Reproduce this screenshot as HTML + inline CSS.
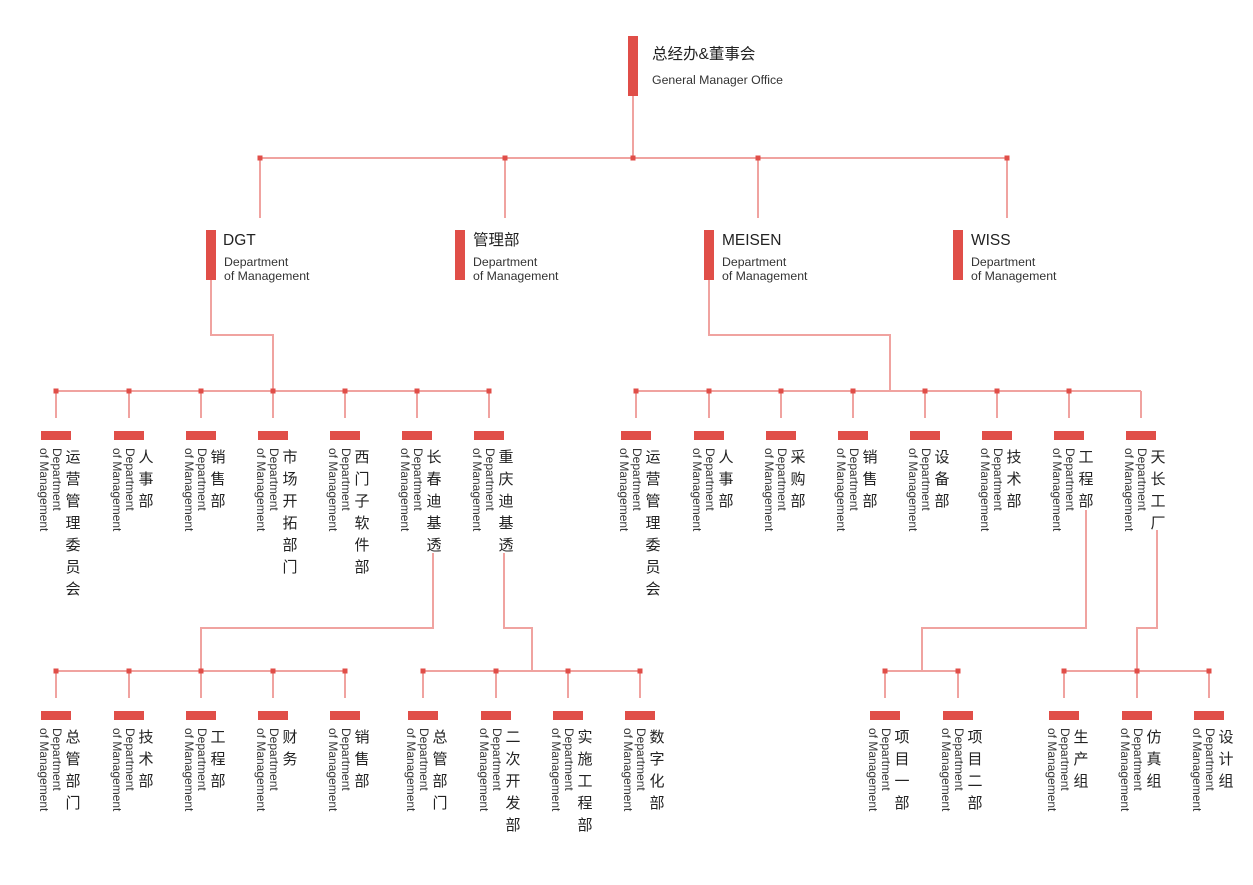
<!DOCTYPE html>
<html><head><meta charset="utf-8"><style>
html,body{margin:0;padding:0;background:#fff}
svg{display:block}
.l{stroke:#f0a3a0;stroke-width:2;fill:none}
.d{fill:#e04e48}
.b{fill:#e04e48}
.e{font-family:"Liberation Sans",sans-serif;font-size:12px;fill:#333}
.c{font-family:"Liberation Sans","Noto Sans CJK SC",sans-serif;font-size:15px;fill:#222;text-anchor:middle}
.t{font-family:"Liberation Sans","Noto Sans CJK SC",sans-serif;font-size:15.5px;fill:#222}
.s{font-family:"Liberation Sans",sans-serif;font-size:12.3px;fill:#333}
</style></head><body>
<svg width="1253" height="885" viewBox="0 0 1253 885" xmlns="http://www.w3.org/2000/svg">
<rect class="b" x="628" y="36" width="10" height="60"/>
<text class="t" x="652" y="59">总经办&amp;董事会</text>
<text class="s" x="652" y="84">General Manager Office</text>
<path class="l" d="M633 96V158M260 158H1007M260 158V218M505 158V218M758 158V218M1007 158V218"/>
<rect class="d" x="257.5" y="155.5" width="5" height="5"/><rect class="d" x="502.5" y="155.5" width="5" height="5"/><rect class="d" x="630.5" y="155.5" width="5" height="5"/><rect class="d" x="755.5" y="155.5" width="5" height="5"/><rect class="d" x="1004.5" y="155.5" width="5" height="5"/>
<rect class="b" x="206" y="230" width="10" height="50"/><text class="t" x="223" y="245">DGT</text><text class="s" x="224" y="266">Department</text><text class="s" x="224" y="280">of Management</text>
<rect class="b" x="455" y="230" width="10" height="50"/><text class="t" x="473" y="245">管理部</text><text class="s" x="473" y="266">Department</text><text class="s" x="473" y="280">of Management</text>
<rect class="b" x="704" y="230" width="10" height="50"/><text class="t" x="722" y="245">MEISEN</text><text class="s" x="722" y="266">Department</text><text class="s" x="722" y="280">of Management</text>
<rect class="b" x="953" y="230" width="10" height="50"/><text class="t" x="971" y="245">WISS</text><text class="s" x="971" y="266">Department</text><text class="s" x="971" y="280">of Management</text>
<path class="l" d="M211 280V335H273V391M56 391H489M56 391V418M129 391V418M201 391V418M273 391V418M345 391V418M417 391V418M489 391V418"/>
<path class="l" d="M709 280V335H890V391M636 391H1141M636 391V418M709 391V418M781 391V418M853 391V418M925 391V418M997 391V418M1069 391V418M1141 391V418"/>
<g class="d">
<rect x="53.5" y="388.5" width="5" height="5"/><rect x="126.5" y="388.5" width="5" height="5"/><rect x="198.5" y="388.5" width="5" height="5"/><rect x="270.5" y="388.5" width="5" height="5"/><rect x="342.5" y="388.5" width="5" height="5"/><rect x="414.5" y="388.5" width="5" height="5"/><rect x="486.5" y="388.5" width="5" height="5"/>
<rect x="633.5" y="388.5" width="5" height="5"/><rect x="706.5" y="388.5" width="5" height="5"/><rect x="778.5" y="388.5" width="5" height="5"/><rect x="850.5" y="388.5" width="5" height="5"/><rect x="922.5" y="388.5" width="5" height="5"/><rect x="994.5" y="388.5" width="5" height="5"/><rect x="1066.5" y="388.5" width="5" height="5"/>
</g>
<path class="l" d="M433 553V628H201V671M56 671H345M56 671V698M129 671V698M201 671V698M273 671V698M345 671V698"/>
<path class="l" d="M504 553V628H532V671M423 671H640M423 671V698M496 671V698M568 671V698M640 671V698"/>
<path class="l" d="M1086 510V628H922V671M885 671H958M885 671V698M958 671V698"/>
<path class="l" d="M1157 530V628H1137V671M1064 671H1209M1064 671V698M1137 671V698M1209 671V698"/>
<g class="d">
<rect x="53.5" y="668.5" width="5" height="5"/><rect x="126.5" y="668.5" width="5" height="5"/><rect x="198.5" y="668.5" width="5" height="5"/><rect x="270.5" y="668.5" width="5" height="5"/><rect x="342.5" y="668.5" width="5" height="5"/>
<rect x="420.5" y="668.5" width="5" height="5"/><rect x="493.5" y="668.5" width="5" height="5"/><rect x="565.5" y="668.5" width="5" height="5"/><rect x="637.5" y="668.5" width="5" height="5"/>
<rect x="882.5" y="668.5" width="5" height="5"/><rect x="955.5" y="668.5" width="5" height="5"/>
<rect x="1061.5" y="668.5" width="5" height="5"/><rect x="1134.5" y="668.5" width="5" height="5"/><rect x="1206.5" y="668.5" width="5" height="5"/>
</g>
<g>
<rect class="b" x="41" y="431" width="30" height="9"/><text class="e" transform="translate(53,448) rotate(90)">Department</text><text class="e" transform="translate(40,448) rotate(90)">of Management</text>
<text class="c" x="73" y="462">运</text><text class="c" x="73" y="484">营</text><text class="c" x="73" y="506">管</text><text class="c" x="73" y="528">理</text><text class="c" x="73" y="550">委</text><text class="c" x="73" y="572">员</text><text class="c" x="73" y="594">会</text>
<rect class="b" x="114" y="431" width="30" height="9"/><text class="e" transform="translate(126,448) rotate(90)">Department</text><text class="e" transform="translate(113,448) rotate(90)">of Management</text>
<text class="c" x="146" y="462">人</text><text class="c" x="146" y="484">事</text><text class="c" x="146" y="506">部</text>
<rect class="b" x="186" y="431" width="30" height="9"/><text class="e" transform="translate(198,448) rotate(90)">Department</text><text class="e" transform="translate(185,448) rotate(90)">of Management</text>
<text class="c" x="218" y="462">销</text><text class="c" x="218" y="484">售</text><text class="c" x="218" y="506">部</text>
<rect class="b" x="258" y="431" width="30" height="9"/><text class="e" transform="translate(270,448) rotate(90)">Department</text><text class="e" transform="translate(257,448) rotate(90)">of Management</text>
<text class="c" x="290" y="462">市</text><text class="c" x="290" y="484">场</text><text class="c" x="290" y="506">开</text><text class="c" x="290" y="528">拓</text><text class="c" x="290" y="550">部</text><text class="c" x="290" y="572">门</text>
<rect class="b" x="330" y="431" width="30" height="9"/><text class="e" transform="translate(342,448) rotate(90)">Department</text><text class="e" transform="translate(329,448) rotate(90)">of Management</text>
<text class="c" x="362" y="462">西</text><text class="c" x="362" y="484">门</text><text class="c" x="362" y="506">子</text><text class="c" x="362" y="528">软</text><text class="c" x="362" y="550">件</text><text class="c" x="362" y="572">部</text>
<rect class="b" x="402" y="431" width="30" height="9"/><text class="e" transform="translate(414,448) rotate(90)">Department</text><text class="e" transform="translate(401,448) rotate(90)">of Management</text>
<text class="c" x="434" y="462">长</text><text class="c" x="434" y="484">春</text><text class="c" x="434" y="506">迪</text><text class="c" x="434" y="528">基</text><text class="c" x="434" y="550">透</text>
<rect class="b" x="474" y="431" width="30" height="9"/><text class="e" transform="translate(486,448) rotate(90)">Department</text><text class="e" transform="translate(473,448) rotate(90)">of Management</text>
<text class="c" x="506" y="462">重</text><text class="c" x="506" y="484">庆</text><text class="c" x="506" y="506">迪</text><text class="c" x="506" y="528">基</text><text class="c" x="506" y="550">透</text>
<rect class="b" x="621" y="431" width="30" height="9"/><text class="e" transform="translate(633,448) rotate(90)">Department</text><text class="e" transform="translate(620,448) rotate(90)">of Management</text>
<text class="c" x="653" y="462">运</text><text class="c" x="653" y="484">营</text><text class="c" x="653" y="506">管</text><text class="c" x="653" y="528">理</text><text class="c" x="653" y="550">委</text><text class="c" x="653" y="572">员</text><text class="c" x="653" y="594">会</text>
<rect class="b" x="694" y="431" width="30" height="9"/><text class="e" transform="translate(706,448) rotate(90)">Department</text><text class="e" transform="translate(693,448) rotate(90)">of Management</text>
<text class="c" x="726" y="462">人</text><text class="c" x="726" y="484">事</text><text class="c" x="726" y="506">部</text>
<rect class="b" x="766" y="431" width="30" height="9"/><text class="e" transform="translate(778,448) rotate(90)">Department</text><text class="e" transform="translate(765,448) rotate(90)">of Management</text>
<text class="c" x="798" y="462">采</text><text class="c" x="798" y="484">购</text><text class="c" x="798" y="506">部</text>
<rect class="b" x="838" y="431" width="30" height="9"/><text class="e" transform="translate(850,448) rotate(90)">Department</text><text class="e" transform="translate(837,448) rotate(90)">of Management</text>
<text class="c" x="870" y="462">销</text><text class="c" x="870" y="484">售</text><text class="c" x="870" y="506">部</text>
<rect class="b" x="910" y="431" width="30" height="9"/><text class="e" transform="translate(922,448) rotate(90)">Department</text><text class="e" transform="translate(909,448) rotate(90)">of Management</text>
<text class="c" x="942" y="462">设</text><text class="c" x="942" y="484">备</text><text class="c" x="942" y="506">部</text>
<rect class="b" x="982" y="431" width="30" height="9"/><text class="e" transform="translate(994,448) rotate(90)">Department</text><text class="e" transform="translate(981,448) rotate(90)">of Management</text>
<text class="c" x="1014" y="462">技</text><text class="c" x="1014" y="484">术</text><text class="c" x="1014" y="506">部</text>
<rect class="b" x="1054" y="431" width="30" height="9"/><text class="e" transform="translate(1066,448) rotate(90)">Department</text><text class="e" transform="translate(1053,448) rotate(90)">of Management</text>
<text class="c" x="1086" y="462">工</text><text class="c" x="1086" y="484">程</text><text class="c" x="1086" y="506">部</text>
<rect class="b" x="1126" y="431" width="30" height="9"/><text class="e" transform="translate(1138,448) rotate(90)">Department</text><text class="e" transform="translate(1125,448) rotate(90)">of Management</text>
<text class="c" x="1158" y="462">天</text><text class="c" x="1158" y="484">长</text><text class="c" x="1158" y="506">工</text><text class="c" x="1158" y="528">厂</text>
</g>
<g>
<rect class="b" x="41" y="711" width="30" height="9"/><text class="e" transform="translate(53,728) rotate(90)">Department</text><text class="e" transform="translate(40,728) rotate(90)">of Management</text>
<text class="c" x="73" y="742">总</text><text class="c" x="73" y="764">管</text><text class="c" x="73" y="786">部</text><text class="c" x="73" y="808">门</text>
<rect class="b" x="114" y="711" width="30" height="9"/><text class="e" transform="translate(126,728) rotate(90)">Department</text><text class="e" transform="translate(113,728) rotate(90)">of Management</text>
<text class="c" x="146" y="742">技</text><text class="c" x="146" y="764">术</text><text class="c" x="146" y="786">部</text>
<rect class="b" x="186" y="711" width="30" height="9"/><text class="e" transform="translate(198,728) rotate(90)">Department</text><text class="e" transform="translate(185,728) rotate(90)">of Management</text>
<text class="c" x="218" y="742">工</text><text class="c" x="218" y="764">程</text><text class="c" x="218" y="786">部</text>
<rect class="b" x="258" y="711" width="30" height="9"/><text class="e" transform="translate(270,728) rotate(90)">Department</text><text class="e" transform="translate(257,728) rotate(90)">of Management</text>
<text class="c" x="290" y="742">财</text><text class="c" x="290" y="764">务</text>
<rect class="b" x="330" y="711" width="30" height="9"/><text class="e" transform="translate(342,728) rotate(90)">Department</text><text class="e" transform="translate(329,728) rotate(90)">of Management</text>
<text class="c" x="362" y="742">销</text><text class="c" x="362" y="764">售</text><text class="c" x="362" y="786">部</text>
<rect class="b" x="408" y="711" width="30" height="9"/><text class="e" transform="translate(420,728) rotate(90)">Department</text><text class="e" transform="translate(407,728) rotate(90)">of Management</text>
<text class="c" x="440" y="742">总</text><text class="c" x="440" y="764">管</text><text class="c" x="440" y="786">部</text><text class="c" x="440" y="808">门</text>
<rect class="b" x="481" y="711" width="30" height="9"/><text class="e" transform="translate(493,728) rotate(90)">Department</text><text class="e" transform="translate(480,728) rotate(90)">of Management</text>
<text class="c" x="513" y="742">二</text><text class="c" x="513" y="764">次</text><text class="c" x="513" y="786">开</text><text class="c" x="513" y="808">发</text><text class="c" x="513" y="830">部</text>
<rect class="b" x="553" y="711" width="30" height="9"/><text class="e" transform="translate(565,728) rotate(90)">Department</text><text class="e" transform="translate(552,728) rotate(90)">of Management</text>
<text class="c" x="585" y="742">实</text><text class="c" x="585" y="764">施</text><text class="c" x="585" y="786">工</text><text class="c" x="585" y="808">程</text><text class="c" x="585" y="830">部</text>
<rect class="b" x="625" y="711" width="30" height="9"/><text class="e" transform="translate(637,728) rotate(90)">Department</text><text class="e" transform="translate(624,728) rotate(90)">of Management</text>
<text class="c" x="657" y="742">数</text><text class="c" x="657" y="764">字</text><text class="c" x="657" y="786">化</text><text class="c" x="657" y="808">部</text>
<rect class="b" x="870" y="711" width="30" height="9"/><text class="e" transform="translate(882,728) rotate(90)">Department</text><text class="e" transform="translate(869,728) rotate(90)">of Management</text>
<text class="c" x="902" y="742">项</text><text class="c" x="902" y="764">目</text><text class="c" x="902" y="786">一</text><text class="c" x="902" y="808">部</text>
<rect class="b" x="943" y="711" width="30" height="9"/><text class="e" transform="translate(955,728) rotate(90)">Department</text><text class="e" transform="translate(942,728) rotate(90)">of Management</text>
<text class="c" x="975" y="742">项</text><text class="c" x="975" y="764">目</text><text class="c" x="975" y="786">二</text><text class="c" x="975" y="808">部</text>
<rect class="b" x="1049" y="711" width="30" height="9"/><text class="e" transform="translate(1061,728) rotate(90)">Department</text><text class="e" transform="translate(1048,728) rotate(90)">of Management</text>
<text class="c" x="1081" y="742">生</text><text class="c" x="1081" y="764">产</text><text class="c" x="1081" y="786">组</text>
<rect class="b" x="1122" y="711" width="30" height="9"/><text class="e" transform="translate(1134,728) rotate(90)">Department</text><text class="e" transform="translate(1121,728) rotate(90)">of Management</text>
<text class="c" x="1154" y="742">仿</text><text class="c" x="1154" y="764">真</text><text class="c" x="1154" y="786">组</text>
<rect class="b" x="1194" y="711" width="30" height="9"/><text class="e" transform="translate(1206,728) rotate(90)">Department</text><text class="e" transform="translate(1193,728) rotate(90)">of Management</text>
<text class="c" x="1226" y="742">设</text><text class="c" x="1226" y="764">计</text><text class="c" x="1226" y="786">组</text>
</g>
</svg>
</body></html>
